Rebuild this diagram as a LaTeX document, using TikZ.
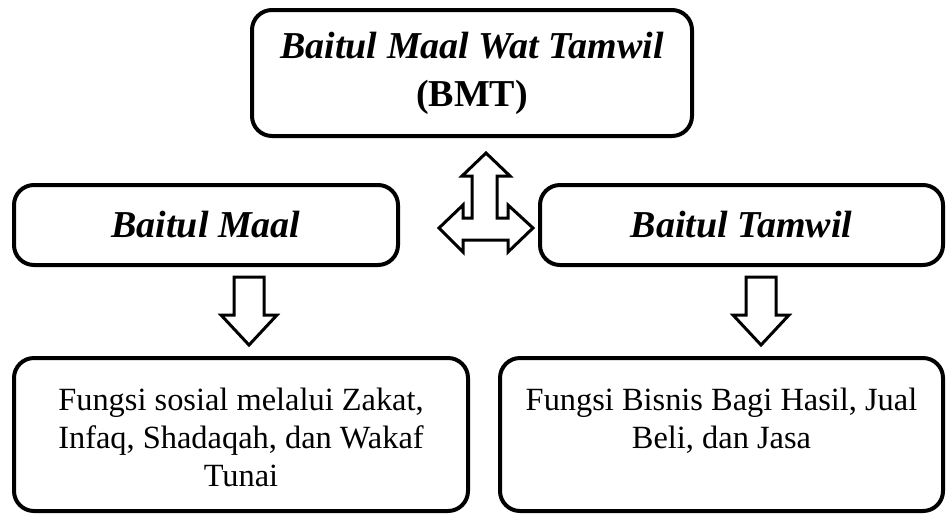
\documentclass[tikz,border=0pt]{standalone}
\usepackage{fontspec}
\setmainfont{Liberation Serif}
\usepackage{tikz}
\tikzset{
    blockarrow/.style={draw, line width=1.5pt, fill=white, line join=miter},
    pics/downarrow/.style={code={
        \draw[blockarrow] (-15,0) -- (15,0) -- (15,38) -- (28,38) -- (0,68) -- (-28,38) -- (-15,38) -- cycle;
    }}
}

\begin{document}
\begin{tikzpicture}[
    x=0.5pt, y=-0.5pt,
    box/.style={draw, line width=2pt, rounded corners=10pt, inner sep=0pt},
    headtext/.style={font=\fontsize{19}{24}\selectfont\bfseries\itshape, align=center},
    sidetext/.style={font=\fontsize{19}{24}\selectfont\bfseries\itshape},
    bodytext/.style={font=\fontsize{16.2}{19}\selectfont, align=center, anchor=north, inner sep=0pt}
]
\useasboundingbox (0,0) rectangle (946,515);
\node[box, headtext, minimum width=220pt, minimum height=63pt] (bmt) at (472,73) {Baitul Maal Wat Tamwil\\\textup{(BMT)}};
\node[box, sidetext, minimum width=192pt, minimum height=40pt] (maal) at (206,225) {Baitul Maal};
\node[box, sidetext, minimum width=201.5pt, minimum height=40pt] (tamwil) at (741.5,225) {Baitul Tamwil};
\node[box, minimum width=227pt, minimum height=76.5pt] (sosial) at (241,434.5) {};
\node[box, minimum width=221.5pt, minimum height=76.5pt] (bisnis) at (721.5,434.5) {};
\node[bodytext] (sosialtext) at ([yshift=-16pt]sosial.north) {Fungsi sosial melalui Zakat,\\Infaq, Shadaqah, dan Wakaf\\Tunai};
\node[bodytext] (bisnistext) at ([yshift=-16pt]bisnis.north) {Fungsi Bisnis Bagi Hasil, Jual\\Beli, dan Jasa};
\draw[blockarrow] (486,153) -- (510,176) -- (497,176) -- (497,218) -- (508,218) -- (508,205)
    -- (533,228) -- (508,252) -- (508,240) -- (463,240) -- (463,252) -- (439,228)
    -- (463,205) -- (463,218) -- (472,218) -- (472,176) -- (462,176) -- cycle;
\pic at (249,277) {downarrow};
\pic at (761,277) {downarrow};
\end{tikzpicture}
\end{document}
